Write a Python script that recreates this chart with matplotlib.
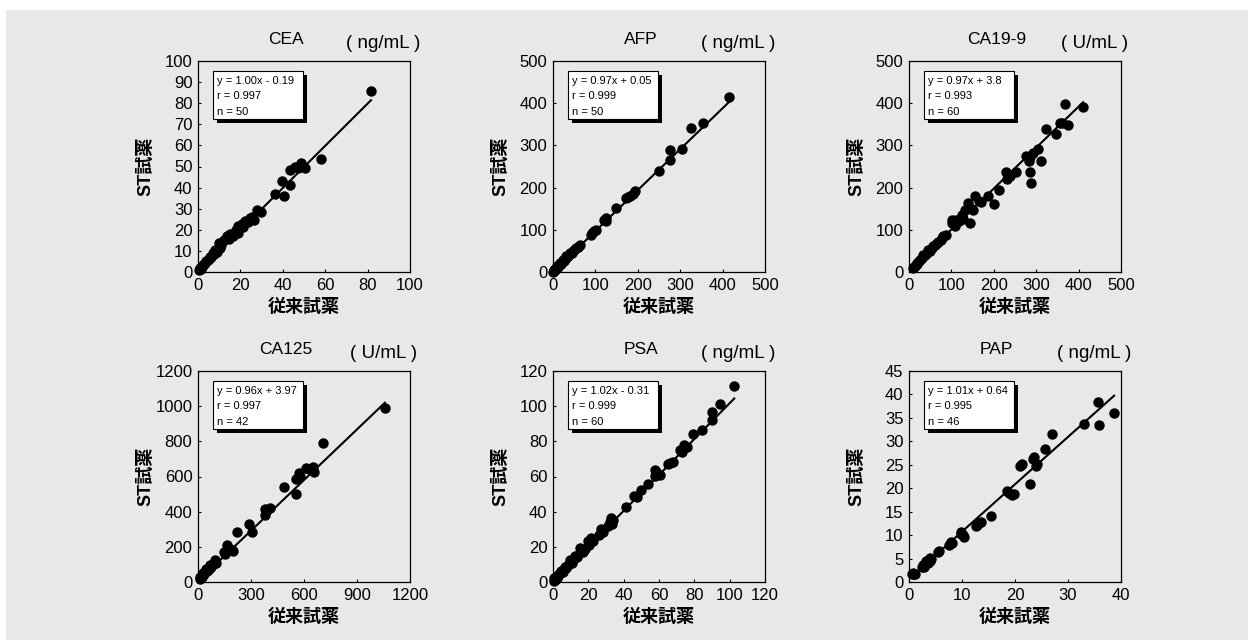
import numpy as np
import matplotlib
matplotlib.use("Agg")
import matplotlib.pyplot as plt
from matplotlib.patches import Rectangle

plt.rcParams['font.family'] = ['Liberation Sans', 'Noto Sans CJK JP', 'DejaVu Sans']

# ---- data ----
names = ["CEA", "AFP", "CA19-9", "CA125", "PSA", "PAP"]
units = ["( ng/mL )", "( ng/mL )", "( U/mL )", "( U/mL )", "( ng/mL )", "( ng/mL )"]
slopes = [1.00, 0.97, 0.97, 0.96, 1.02, 1.01]
intercepts = [-0.19, 0.05, 3.8, 3.97, -0.31, 0.64]
eq_labels = ["y = 1.00x - 0.19", "y = 0.97x + 0.05", "y = 0.97x + 3.8",
             "y = 0.96x + 3.97", "y = 1.02x - 0.31", "y = 1.01x + 0.64"]
r_labels = ["r = 0.997", "r = 0.999", "r = 0.993", "r = 0.997", "r = 0.999", "r = 0.995"]
n_labels = ["n = 50", "n = 50", "n = 60", "n = 42", "n = 60", "n = 46"]
x_max = [100, 500, 500, 1200, 120, 40]
y_max = [100, 500, 500, 1200, 120, 45]
x_step = [20, 100, 100, 300, 20, 10]
y_step = [10, 100, 100, 200, 20, 5]

cea_x = [81.6, 58.1, 50.5, 48.7, 47.0, 45.8, 43.2, 43.5, 39.6, 40.8,
         36.4, 29.8, 27.8, 25.7, 26.2, 22.3, 20.7, 18.7, 18.7, 18.0,
         15.2, 13.7, 12.1, 9.7, 8.2, 7.0, 5.5, 4.5, 3.5, 2.5,
         1.5, 1.0, 0.8, 2.0, 3.0, 4.0, 5.0, 6.0, 7.5, 9.0,
         10.5, 11.0, 14.5, 16.5, 17.0, 21.0, 23.5, 24.5, 1.2, 0.5]
cea_y = [85.6, 53.4, 49.4, 51.7, 49.5, 49.8, 48.5, 41.1, 43.0, 35.9,
         36.8, 28.3, 29.2, 26.1, 24.8, 24.2, 22.6, 21.6, 18.5, 20.0,
         18.2, 16.9, 15.0, 13.7, 10.3, 8.8, 7.0, 5.8, 4.5, 3.2,
         2.0, 1.2, 1.8, 2.6, 3.8, 5.0, 6.0, 7.2, 8.3, 9.5,
         11.5, 13.0, 15.5, 17.0, 18.0, 21.5, 23.8, 25.5, 1.5, 0.9]

afp_x = [415.7, 352.8, 325.0, 304.7, 277.0, 275.6, 249.6, 194.5, 181.0, 173.0,
         176.0, 149.6, 126.0, 120.5, 102.0, 92.0, 96.0, 64.6, 60.0, 55.0,
         50.0, 47.0, 42.0, 39.0, 35.0, 31.5, 28.0, 23.6, 20.0, 15.7,
         12.0, 9.4, 7.0, 4.0, 2.5, 1.5, 1.0, 3.0, 5.5, 8.0,
         11.0, 14.0, 18.0, 26.0, 33.0, 44.0, 58.0, 89.0, 124.0, 188.0]
afp_y = [414.0, 354.0, 341.0, 290.6, 289.0, 265.0, 239.0, 192.0, 181.0, 175.0,
         178.0, 152.8, 127.6, 123.6, 98.4, 92.0, 96.0, 64.6, 60.0, 56.7,
         52.0, 50.0, 45.0, 45.0, 38.0, 37.0, 31.0, 29.0, 22.0, 21.0,
         14.0, 13.4, 8.0, 5.5, 3.0, 1.5, 1.0, 4.0, 6.5, 9.0,
         12.0, 16.0, 20.0, 27.0, 35.0, 46.0, 60.0, 88.0, 121.0, 186.0]

ca199_x = [410.7, 367.0, 375.0, 356.0, 362.0, 346.0, 322.0, 312.0, 304.0, 293.0,
           284.5, 283.0, 284.5, 287.0, 252.8, 229.0, 239.0, 231.4, 213.0, 200.0,
           185.6, 170.6, 156.4, 144.5, 139.0, 144.5, 132.7, 124.8, 111.4, 101.0,
           109.0, 101.0, 81.0, 69.5, 57.7, 45.8, 34.0, 26.0, 18.0, 10.0,
           12.0, 14.0, 16.0, 20.0, 23.0, 30.0, 38.0, 42.0, 50.0, 54.0,
           62.0, 66.0, 75.0, 78.0, 88.0, 118.0, 128.0, 150.0, 165.0, 277.0]
ca199_y = [390.6, 399.0, 348.0, 353.5, 352.0, 328.0, 338.0, 264.0, 291.0, 281.0,
           271.6, 263.8, 237.8, 211.8, 237.8, 237.8, 227.6, 219.7, 194.5, 161.4,
           181.0, 167.0, 181.0, 151.0, 163.0, 115.7, 147.0, 135.0, 123.6, 115.7,
           108.0, 123.6, 85.8, 72.0, 60.6, 51.0, 41.0, 29.0, 19.0, 9.4,
           12.0, 15.0, 17.0, 22.0, 25.0, 33.0, 40.0, 45.0, 50.0, 56.0,
           63.0, 68.0, 76.0, 80.0, 87.0, 120.0, 126.0, 146.0, 168.0, 276.0]

ca125_x = [1058, 705, 658, 652, 614, 573, 552, 554, 488, 406,
           378, 382, 308, 289, 223, 166, 195, 170, 145, 94,
           66, 43, 28, 13, 20, 35, 50, 55, 60, 75,
           80, 85, 100, 150, 160, 180, 200, 390, 580, 630,
           10, 25]
ca125_y = [987, 788, 628, 656, 646, 618, 584, 499, 542, 423,
           414, 382, 283, 331, 283, 212, 183, 180, 168, 123,
           98, 74, 51, 26, 30, 48, 62, 70, 72, 88,
           95, 100, 110, 160, 175, 190, 178, 410, 605, 640,
           15, 35]

psa_x = [102.6, 94.5, 89.8, 89.8, 84.1, 79.4, 74.3, 71.8, 68.0, 65.2,
         58.0, 60.5, 57.7, 53.5, 49.7, 45.7, 41.2, 33.1, 32.1, 27.4,
         21.7, 19.8, 15.1, 18.0, 12.3, 9.5, 6.6, 4.3, 2.8, 1.5,
         1.0, 0.5, 2.0, 3.5, 5.0, 5.5, 7.5, 8.5, 10.5, 11.5,
         13.5, 14.0, 16.5, 17.0, 20.5, 22.5, 26.0, 28.5, 31.0, 33.5,
         34.0, 47.5, 59.0, 66.5, 73.0, 76.0, 0.8, 1.8, 3.0, 4.0]
psa_y = [111.5, 101.5, 96.8, 92.4, 86.4, 83.9, 77.9, 75.0, 68.4, 67.1,
         63.7, 60.9, 60.3, 55.8, 52.4, 49.0, 42.9, 36.3, 34.4, 30.1,
         25.0, 23.4, 19.3, 18.7, 14.6, 12.3, 8.5, 6.0, 4.2, 1.9,
         1.2, 0.8, 2.5, 4.8, 6.5, 5.8, 8.0, 9.5, 11.0, 12.5,
         14.0, 15.5, 17.5, 17.0, 21.0, 23.5, 26.5, 28.5, 32.0, 33.0,
         35.5, 48.5, 62.0, 67.5, 74.0, 77.0, 2.2, 2.8, 3.2, 5.0]

pap_x = [38.7, 35.6, 35.8, 33.0, 26.9, 25.6, 24.2, 23.6, 22.8, 21.4,
         20.9, 19.8, 18.5, 15.4, 13.5, 12.6, 10.3, 9.9, 7.96, 7.5,
         5.6, 4.0, 3.3, 2.7, 0.8, 0.6, 1.0, 2.9, 3.6, 3.9,
         4.2, 5.4, 7.7, 8.1, 9.8, 10.1, 12.9, 13.2, 18.8, 19.5,
         21.2, 23.4, 24.0, 2.5, 3.1, 1.2]
pap_y = [36.0, 38.3, 33.5, 33.6, 31.6, 28.3, 25.2, 26.7, 20.8, 25.2,
         24.7, 18.7, 19.4, 14.1, 12.7, 12.0, 9.7, 10.7, 8.6, 7.9,
         6.6, 5.1, 4.4, 3.7, 1.9, 1.7, 1.8, 3.3, 4.1, 4.5,
         4.9, 6.4, 8.2, 8.4, 10.3, 10.0, 12.2, 12.5, 19.0, 18.5,
         25.0, 26.2, 24.8, 3.2, 3.9, 1.6]

xs = [cea_x, afp_x, ca199_x, ca125_x, psa_x, pap_x]
ys = [cea_y, afp_y, ca199_y, ca125_y, psa_y, pap_y]

# ---- figure ----
W, H = 1248, 640
fig = plt.figure(figsize=(W / 100, H / 100), dpi=100, facecolor='white')
# grey panel behind everything
fig.patches.append(Rectangle((6 / W, 0), 1, 1 - 10 / H, transform=fig.transFigure,
                             facecolor='#e8e8e8', edgecolor='none', zorder=-10))

lefts = [198, 553, 909]
tops = [61, 371]
aw, ah = 212, 211

for i in range(6):
    row, col = divmod(i, 3)
    ax = fig.add_axes([lefts[col] / W, 1 - (tops[row] + ah) / H, aw / W, ah / H])
    ax.set_facecolor('#e8e8e8')
    x = np.array(xs[i])
    y = np.array(ys[i])
    ax.plot(x, y, 'o', color='black', ms=7.5, mew=0, clip_on=False, zorder=3)
    lx = np.array([x.min(), x.max()])
    ax.plot(lx, slopes[i] * lx + intercepts[i], color='black', lw=1.5, zorder=2)

    ax.set_xlim(0, x_max[i])
    ax.set_ylim(0, y_max[i])
    ax.set_xticks(np.arange(0, x_max[i] + 1, x_step[i]))
    ax.set_yticks(np.arange(0, y_max[i] + 1, y_step[i]))
    ax.tick_params(direction='in', length=2.5, width=0.8, labelsize=12, pad=4)
    for s in ax.spines.values():
        s.set_linewidth(0.9)

    ax.set_xlabel("従来試薬", fontsize=13, fontweight='bold')
    ax.set_ylabel("ST試薬", fontsize=13, fontweight='bold')
    ax.xaxis.set_label_coords(0.5, -35 / ah)
    ax.xaxis.label.set_va('center')
    ax.yaxis.set_label_coords(-52 / aw, 0.5)
    ax.yaxis.label.set_va('center')

    ax.text(0.414, 1.103, names[i], transform=ax.transAxes, ha='center', va='center',
            fontsize=12.5)
    ax.text(0.875, 1.084, units[i], transform=ax.transAxes, ha='center', va='center',
            fontsize=13.5)

    # stats box with drop shadow
    bx, by, bw, bh = 0.07, 0.724, 0.425, 0.23
    ax.add_patch(Rectangle((bx + 0.019, by - 0.019), bw, bh, transform=ax.transAxes,
                           facecolor='black', edgecolor='none', zorder=5))
    ax.add_patch(Rectangle((bx, by), bw, bh, transform=ax.transAxes,
                           facecolor='white', edgecolor='black', lw=0.8, zorder=6))
    for k, t in enumerate([eq_labels[i], r_labels[i], n_labels[i]]):
        ax.text(0.088, 1 - 0.093 - 0.0735 * k, t, transform=ax.transAxes,
                ha='left', va='center', fontsize=8, zorder=7)

fig.savefig("out.png", dpi=100, facecolor='white')
